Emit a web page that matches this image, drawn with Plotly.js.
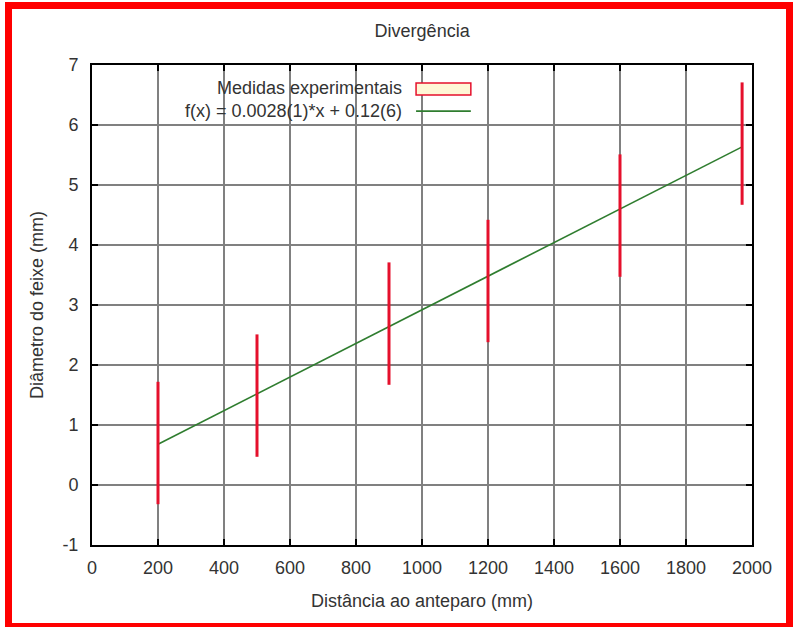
<!DOCTYPE html>
<html>
<head>
<meta charset="utf-8">
<script src="https://cdn.plot.ly/plotly-3.0.1.min.js"></script>
<style>
  html, body { margin: 0; padding: 0; background: #fff; }
  #wrap { position: relative; width: 795px; height: 627px; overflow: hidden; }
  #chart { position: absolute; left: 0; top: 0; width: 795px; height: 627px; }
  #frame { position: absolute; left: 5px; top: 2px; width: 774px; height: 614px;
           border: 7px solid #ff0000; pointer-events: none; }
</style>
</head>
<body>
<div id="wrap">
  <div id="chart"></div>
  <div id="frame"></div>
</div>
<script>
// ---- data ----
const distances = [200, 500, 900, 1200, 1600, 1970];          // mm
const diameters = [0.70, 1.49, 2.69, 3.40, 4.49, 5.69];       // mm
const errors    = [1.02, 1.02, 1.02, 1.02, 1.02, 1.02];       // mm
const fitX = [200, 1970];
const fitY = [0.68, 5.636];
const xTicks = [0, 200, 400, 600, 800, 1000, 1200, 1400, 1600, 1800, 2000];
const yTicks = [-1, 0, 1, 2, 3, 4, 5, 6, 7];
const seriesNames = ["Medidas experimentais", "f(x) = 0.0028(1)*x + 0.12(6)"];

const RED = '#e5102c';
const GREEN = '#2f7d2f';
const FONT = 'Liberation Sans, Arial, sans-serif';
const FS = 18;
const TXT = '#333';

const traces = [
  {
    x: fitX, y: fitY, type: 'scatter', mode: 'lines',
    line: { color: GREEN, width: 1.6 }, name: seriesNames[1],
    hoverinfo: 'skip', cliponaxis: false
  },
  {
    x: distances, y: diameters, type: 'scatter', mode: 'markers',
    marker: { size: 1, opacity: 0, color: RED }, name: seriesNames[0],
    error_y: { type: 'data', array: errors, visible: true, color: RED, thickness: 3, width: 0 },
    cliponaxis: false
  }
];

const axisCommon = {
  showgrid: true, gridcolor: '#808080', gridwidth: 1.5,
  zeroline: false, showline: true, linecolor: '#000', linewidth: 2,
  mirror: 'ticks', ticks: 'inside', ticklen: 6, tickcolor: '#000', tickwidth: 1.5,
  tickfont: { family: FONT, size: FS, color: TXT },
  fixedrange: true
};

const layout = {
  width: 795, height: 627,
  margin: { l: 92, r: 43, t: 65, b: 82 },
  paper_bgcolor: '#fff', plot_bgcolor: '#fff',
  showlegend: false,
  font: { family: FONT, size: FS, color: TXT },
  title: { text: 'Divergência', x: 0.531, xanchor: 'center', y: 0.951, yanchor: 'middle',
           font: { family: FONT, size: FS, color: TXT } },
  xaxis: Object.assign({}, axisCommon, {
    range: [0, 2000], tickvals: xTicks, ticktext: xTicks.map(String),
    ticklabelstandoff: 5,
    title: { text: 'Distância ao anteparo (mm)', standoff: 18, font: { family: FONT, size: FS, color: TXT } }
  }),
  yaxis: Object.assign({}, axisCommon, {
    range: [-1, 7], tickvals: yTicks, ticktext: yTicks.map(String),
    ticklabelstandoff: 8,
    title: { text: 'Diâmetro do feixe (mm)', standoff: 14, font: { family: FONT, size: FS, color: TXT } }
  }),
  shapes: [
    { type: 'rect', xref: 'paper', yref: 'paper', x0: 0.491, x1: 0.574, y0: 0.9375, y1: 0.9625,
      line: { color: RED, width: 1.5 }, fillcolor: '#fff7d6' },
    { type: 'line', xref: 'paper', yref: 'paper', x0: 0.491, x1: 0.574, y0: 0.904, y1: 0.904,
      line: { color: GREEN, width: 1.6 } }
  ],
  annotations: [
    { xref: 'paper', yref: 'paper', x: 0.4727, y: 0.952, xanchor: 'right', yanchor: 'middle',
      text: seriesNames[0], showarrow: false, font: { family: FONT, size: FS, color: TXT } },
    { xref: 'paper', yref: 'paper', x: 0.4727, y: 0.904, xanchor: 'right', yanchor: 'middle',
      text: seriesNames[1], showarrow: false, font: { family: FONT, size: FS, color: TXT } }
  ]
};

Plotly.newPlot('chart', traces, layout, { displayModeBar: false, staticPlot: true });
</script>
</body>
</html>
